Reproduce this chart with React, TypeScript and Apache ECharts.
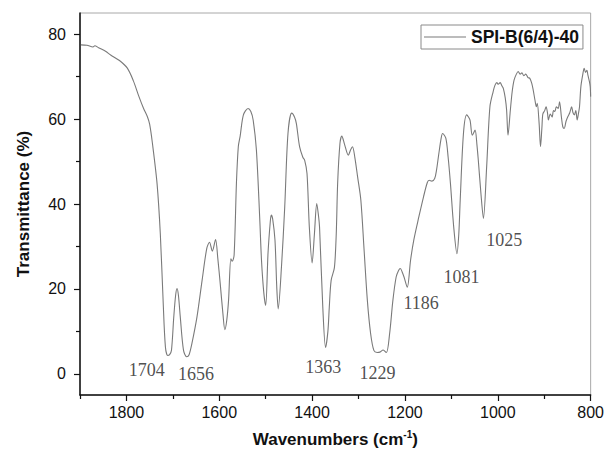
import React, { useEffect, useRef } from "react";
import * as echarts from "echarts";

const wavenumbers: number[] = [
  1898, 1885, 1872, 1868, 1860, 1845, 1834, 1815, 1798, 1785, 1773, 1763, 1755, 1750, 1744, 1734, 1727, 1721, 1716, 1711,
  1707, 1703, 1698, 1694, 1691, 1688, 1684, 1677, 1670, 1665, 1659, 1648, 1637, 1627, 1621, 1615, 1608, 1603, 1598, 1592,
  1588, 1584, 1580, 1575, 1572, 1568, 1563, 1559, 1555, 1548, 1538, 1532, 1527, 1520, 1513, 1509, 1504, 1500, 1495, 1490,
  1488, 1485, 1480, 1476, 1473, 1466, 1459, 1452, 1444, 1438, 1434, 1427, 1420, 1416, 1411, 1406, 1400, 1395, 1390, 1386,
  1384, 1377, 1371, 1366, 1363, 1359, 1352, 1348, 1345, 1340, 1336, 1330, 1322, 1317, 1313, 1308, 1302, 1295, 1288, 1281,
  1274, 1267, 1260, 1254, 1247, 1240, 1233, 1226, 1219, 1214, 1210, 1206, 1202, 1195, 1188, 1181, 1170, 1160, 1152, 1148,
  1142, 1136, 1132, 1127, 1122, 1119, 1112, 1107, 1102, 1095, 1088, 1084, 1081, 1074, 1067, 1060, 1055, 1049, 1045, 1042,
  1036, 1031, 1024, 1017, 1010, 1006, 1002, 999, 995, 991, 988, 984, 981, 978, 973, 969, 965, 960, 956, 952,
  948, 944, 940, 935, 931, 927, 924, 920, 917, 915, 911, 908, 905, 903, 899, 896, 893, 891, 887, 883,
  880, 877, 874, 870, 867, 863, 860, 857, 853, 849, 845, 841, 838, 835, 832, 829, 826, 824, 821, 817,
  814, 811, 808, 806, 803, 801, 800,
];

const transmittance: number[] = [
  77.5, 77.4, 77.0, 77.3, 76.8, 76.0, 75.1, 73.8, 72.0, 69.0, 65.3, 62.5, 60.6, 58.8, 54.3, 44.8, 33.0, 17.3, 6.3, 4.3,
  4.5, 5.5, 13.4, 18.5, 20.1, 18.5, 13.4, 5.5, 4.0, 4.5, 7.1, 13.4, 22.0, 29.5, 31.0, 28.9, 31.6, 27.0, 21.3, 14.0,
  10.4, 12.5, 17.3, 27.1, 26.5, 28.0, 45.0, 53.5, 56.0, 61.0, 62.5, 61.8, 59.8, 52.7, 37.0, 26.7, 19.0, 16.1, 28.4, 36.0,
  37.4, 36.5, 31.5, 20.0, 15.3, 25.2, 39.3, 56.6, 61.4, 60.5, 59.0, 53.5, 51.0, 50.3, 47.2, 34.6, 26.1, 33.0, 40.1, 37.0,
  34.6, 15.7, 6.2, 10.0, 15.7, 22.0, 25.0, 33.0, 44.9, 54.3, 56.0, 54.0, 51.5, 52.8, 53.5, 51.0, 46.4, 40.9, 29.1, 17.3,
  9.5, 5.5, 5.0, 5.1, 5.6, 5.0, 9.5, 17.3, 22.8, 24.3, 24.8, 24.0, 22.8, 20.4, 26.7, 31.5, 37.0, 41.7, 45.0, 45.6,
  45.4, 46.0, 48.0, 51.9, 55.5, 56.6, 55.5, 51.0, 44.8, 34.6, 28.3, 33.0, 40.9, 56.6, 61.0, 59.8, 56.2, 57.4, 54.0, 50.3,
  42.0, 36.6, 48.8, 62.9, 66.5, 68.0, 68.6, 68.2, 68.6, 67.8, 67.2, 65.0, 62.1, 56.2, 62.1, 66.5, 69.2, 70.6, 71.2, 70.6,
  70.9, 70.2, 70.6, 69.8, 69.6, 68.5, 67.0, 64.5, 62.9, 63.7, 59.0, 53.5, 58.0, 61.2, 62.0, 62.9, 61.5, 59.8, 61.2, 60.5,
  62.0, 61.8, 62.9, 62.5, 64.1, 60.5, 58.2, 57.8, 59.5, 60.6, 61.5, 62.9, 61.5, 61.0, 62.0, 59.8, 61.5, 62.9, 67.7, 70.5,
  72.0, 71.0, 71.5, 70.4, 69.0, 67.7, 65.3,
];

const peakLabels: string[] = ["1704", "1656", "1363", "1229", "1186", "1081", "1025"];
const peakLabelX: number[] = [1756, 1650, 1376, 1259, 1165, 1078, 986];
const peakLabelY: number[] = [0.8, 0.0, 1.6, 0.3, 16.6, 22.8, 31.5];

const xMajorTicks: number[] = [1800, 1600, 1400, 1200, 1000, 800];
const xMinorTicks: number[] = [1900, 1700, 1500, 1300, 1100, 900];
const yMajorTicks: number[] = [0, 20, 40, 60, 80];
const yMinorTicks: number[] = [10, 30, 50, 70];

const seriesName = "SPI-B(6/4)-40";

export default function App() {
  const ref = useRef<HTMLDivElement>(null);

  useEffect(() => {
    if (!ref.current) return;
    const chart = echarts.init(ref.current, undefined, { renderer: "svg" });
    const sans = "Liberation Sans, Arial, sans-serif";
    const serif = "Liberation Serif, Times New Roman, serif";

    const lineData = wavenumbers.map((w, i) => [w, transmittance[i]]);
    const labelData = peakLabels.map((t, i) => ({ value: [peakLabelX[i], peakLabelY[i]], name: t }));

    const xBase = {
      type: "value" as const,
      min: 800,
      max: 1900,
      inverse: true,
      position: "bottom" as const,
      splitLine: { show: false },
    };
    const yBase = {
      type: "value" as const,
      min: -5,
      max: 85,
      position: "left" as const,
      splitLine: { show: false },
    };
    const plain = (v: number) => String(v);

    chart.setOption({
      animation: false,
      backgroundColor: "#ffffff",
      grid: {
        left: 80,
        right: 14,
        top: 13,
        bottom: 60,
        show: true,
        borderColor: "#a8a8a8",
        borderWidth: 1,
        containLabel: false,
      },
      legend: {
        data: [{ name: seriesName, icon: "rect" }],
        left: 421,
        top: 25,
        padding: [3, 4, 3, 3],
        itemWidth: 42,
        itemHeight: 1,
        itemStyle: { color: "#7a7a7a", borderWidth: 0 },
        borderColor: "#8a8a8a",
        borderWidth: 1,
        textStyle: { fontFamily: sans, fontSize: 17.5, fontWeight: "bold", color: "#111", lineHeight: 16 },
      },
      xAxis: [
        {
          ...xBase,
          axisLine: { show: true, onZero: false, lineStyle: { color: "#111", width: 1.5 } },
          axisTick: { show: true, customValues: xMajorTicks, length: 6, lineStyle: { color: "#111", width: 1.2 } },
          axisLabel: { customValues: xMajorTicks, formatter: plain, fontFamily: sans, fontSize: 16, color: "#111", margin: 9 },
          name: "{t|Wavenumbers (cm}{s|-1}{t|)}",
          nameLocation: "middle",
          nameGap: 34,
          nameTextStyle: {
            rich: {
              t: { fontFamily: sans, fontSize: 17, fontWeight: "bold", color: "#111" },
              s: { fontFamily: sans, fontSize: 10, fontWeight: "bold", color: "#111", padding: [0, 0, 10, 0] },
            },
          },
        },
        {
          ...xBase,
          axisLine: { show: false, onZero: false },
          axisTick: { show: true, customValues: xMinorTicks, length: 4, lineStyle: { color: "#111", width: 1.2 } },
          axisLabel: { show: false },
        },
      ],
      yAxis: [
        {
          ...yBase,
          axisLine: { show: true, onZero: false, lineStyle: { color: "#111", width: 1.5 } },
          axisTick: { show: true, customValues: yMajorTicks, length: 6, lineStyle: { color: "#111", width: 1.2 } },
          axisLabel: { customValues: yMajorTicks, formatter: plain, fontFamily: sans, fontSize: 16, color: "#111", margin: 14 },
          name: "Transmittance (%)",
          nameLocation: "middle",
          nameGap: 48,
          nameTextStyle: { fontFamily: sans, fontSize: 17, fontWeight: "bold", color: "#111" },
        },
        {
          ...yBase,
          axisLine: { show: false, onZero: false },
          axisTick: { show: true, customValues: yMinorTicks, length: 4, lineStyle: { color: "#111", width: 1.2 } },
          axisLabel: { show: false },
        },
      ],
      series: [
        {
          name: seriesName,
          type: "line",
          xAxisIndex: 0,
          yAxisIndex: 0,
          data: lineData,
          symbol: "none",
          smooth: 0.3,
          lineStyle: { color: "#7a7a7a", width: 1.1 },
          itemStyle: { color: "#7a7a7a" },
        },
        {
          name: "peaks",
          type: "scatter",
          xAxisIndex: 0,
          yAxisIndex: 0,
          data: labelData,
          symbolSize: 0,
          silent: true,
          label: {
            show: true,
            position: "inside",
            formatter: (p: any) => p.name,
            fontFamily: serif,
            fontSize: 18,
            color: "#222",
          },
        },
      ],
    });

    return () => chart.dispose();
  }, []);

  return <div ref={ref} style={{ width: 607, height: 455, position: "absolute", left: 0, top: 0 }} />;
}
